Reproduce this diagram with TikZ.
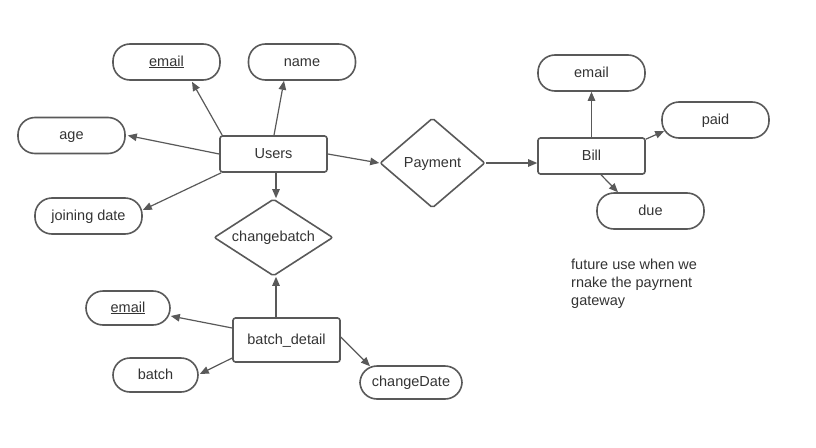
\documentclass[tikz,border=0pt]{standalone}
\usepackage{fontspec}
\setmainfont{Liberation Sans}
\usetikzlibrary{shapes.geometric,arrows.meta}

\definecolor{linegray}{HTML}{595959}
\definecolor{textgray}{HTML}{333333}

\begin{document}
\begin{tikzpicture}[x=1pt, y=-1pt,
    entity/.style={draw=linegray, line width=1.6pt, rounded corners=2.5pt, minimum width=107pt, minimum height=36pt, inner sep=0pt, text height=10.5pt, text depth=2.5pt, text=textgray, font=\fontsize{14.5}{17}\selectfont},
    attr/.style={draw=linegray, line width=1.6pt, rounded corners=17pt, minimum width=107pt, minimum height=36pt, inner sep=0pt, text height=10.5pt, text depth=2.5pt, text=textgray, font=\fontsize{14.5}{17}\selectfont},
    rel/.style={diamond, draw=linegray, line width=1.6pt, rounded corners=2pt, inner sep=0pt, text height=10.5pt, text depth=2.5pt, text=textgray, font=\fontsize{14.5}{17}\selectfont},
    link/.style={draw=linegray, line width=1.2pt, -{Triangle[length=9pt,width=7.5pt]}}]
            \useasboundingbox (0, 0) rectangle (816, 447);

            % Entities
            \node [entity] (users) at (273.5, 154) {Users};
            \node [entity] (bill) at (591.5, 156) {Bill};
            \node [entity, minimum height=44pt] (detail) at (286.5, 340) {batch\_detail};

            % Relations
            \node [rel, aspect=1.55, minimum width=119pt, minimum height=77pt] (change) at (273.5, 237.5) {changebatch};
            \node [rel, aspect=1.17, minimum width=105pt, minimum height=90pt] (pay) at (432.5, 163) {Payment};

            % Attributes
            \node [attr] (uemail) at (166.5, 62) {\underline{email}};
            \node [attr] (uname) at (302, 62) {name};
            \node [attr] (uage) at (71.5, 135.5) {age};
            \node [attr] (ujoin) at (88.5, 216) {joining date};

            \node [attr] (bemail) at (591.5, 73) {email};
            \node [attr] (bpaid) at (715.5, 120) {paid};
            \node [attr] (bdue) at (650.5, 211) {due};

            \node [attr, minimum width=84pt, minimum height=34pt] (demail) at (128, 308) {\underline{email}};
            \node [attr, minimum width=85pt, minimum height=34pt] (dbatch) at (155.5, 375) {batch};
            \node [attr, minimum width=102pt, minimum height=33pt] (ddate) at (411, 382.5) {changeDate};

            % Note
            \node [anchor=north west, inner sep=0pt, align=left, text=textgray, font=\fontsize{14.5}{18}\selectfont] (note) at (571, 259) {future use when we\\rnake the payrnent\\gateway};

            % Links
            \draw [link] ([xshift=3pt]users.north west) -- ([xshift=25.5pt, yshift=-1pt]uemail.south);
            \draw [link] ([xshift=0.5pt]users.north) -- ([xshift=-18pt]uname.south);
            \draw [link] (users.west) -- ([xshift=2pt]uage.east);
            \draw [link] ([xshift=2pt]users.south west) -- ([yshift=6pt]ujoin.east);
            \draw [link] ([xshift=2.5pt]users.south) -- ([xshift=2.5pt]change.north);
            \draw [link] (users.east) -- (pay.west);
            \draw [link] (pay.east) -- ([yshift=-7pt]bill.west);

            \draw [link] (bill.north) -- (bemail.south);
            \draw [link] ([yshift=-2pt]bill.north east) -- ([xshift=3pt, yshift=-11pt]bpaid.west);
            \draw [link] ([xshift=9.5pt]bill.south) -- ([xshift=-32.5pt]bdue.north);

            \draw [link] ([xshift=-10.5pt]detail.north) -- ([xshift=2.5pt]change.south);
            \draw [link] ([yshift=12pt]detail.west) -- ([yshift=-8pt]demail.east);
            \draw [link] ([yshift=-18pt]detail.west) -- ([xshift=1pt, yshift=1pt]dbatch.east);
            \draw [link] ([yshift=3pt]detail.east) -- ([xshift=-41pt, yshift=-1pt]ddate.north);

        \end{tikzpicture}
\end{document}
